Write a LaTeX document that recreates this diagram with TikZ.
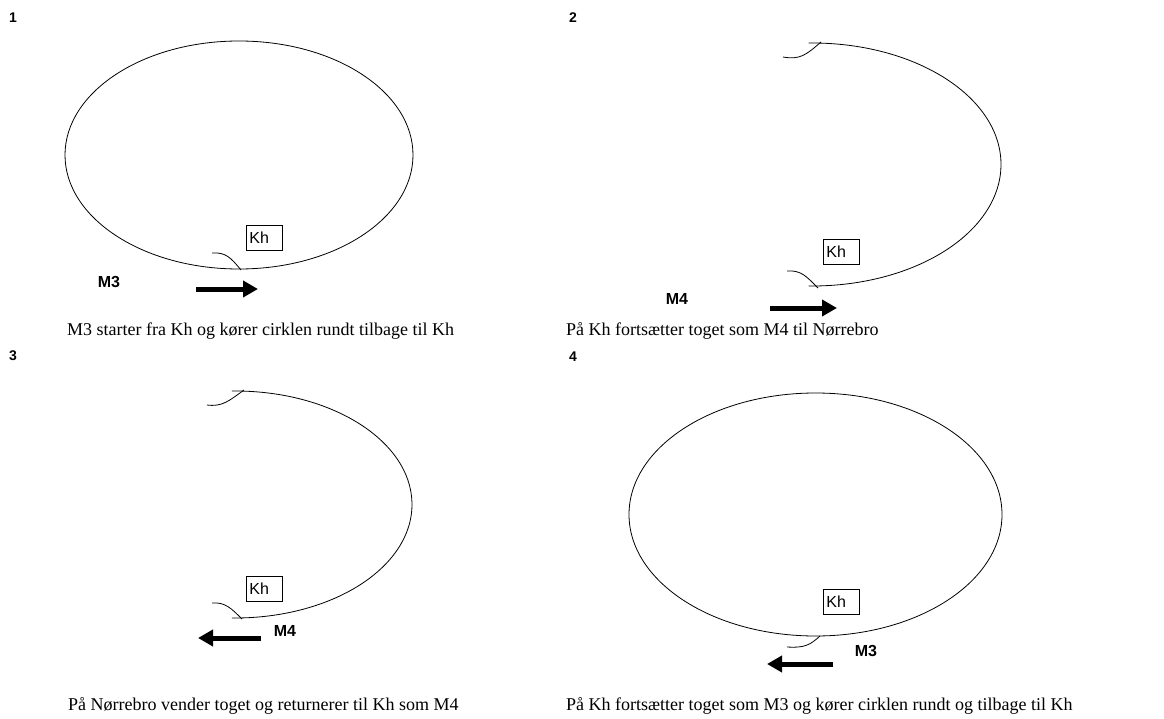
\documentclass[tikz,border=0pt]{standalone}
\usepackage{fontspec}
\setmainfont{Liberation Serif}
\newfontfamily\arialfont{Liberation Sans}
\usetikzlibrary{arrows.meta}
\tikzset{
  track/.style={line width=0.8pt},
  hook/.style={line width=0.8pt},
  khbox/.style={draw, line width=0.8pt, anchor=north west, font=\arialfont\fontsize{16}{16}\selectfont,
    text width=30pt, inner xsep=3pt, inner ysep=0pt, minimum height=25pt, align=left},
  trainlbl/.style={font=\arialfont\bfseries\fontsize{16}{16}\selectfont, inner sep=0pt},
  panelnum/.style={font=\arialfont\bfseries\fontsize{14}{14}\selectfont, inner sep=0pt},
  caption/.style={font=\fontsize{18}{18}\selectfont, anchor=west, inner sep=0pt},
  dirarrow/.style={line width=5pt, -{Triangle[length=15pt,width=16pt]}}
}
\begin{document}
\begin{tikzpicture}[x=1pt,y=-1pt]
\useasboundingbox (0,0) rectangle (1164,719);
% panel numbers
\node[panelnum] (n1) at (13,18) {1};
\node[panelnum] (n2) at (573,18) {2};
\node[panelnum] (n3) at (13,356) {3};
\node[panelnum] (n4) at (573,357) {4};

% ---------- panel 1
\draw[track] (239,155) ellipse [x radius=174, y radius=114];
\draw[hook] (212,253) .. controls (226,252) and (231,258) .. (241,270);
\node[khbox] (kh1) at (246,225) {Kh};
\node[trainlbl] (m31) at (109,282) {M3};
\coordinate (a1s) at (196,289);
\coordinate (a1e) at (258,289);
\draw[dirarrow] (a1s) -- (a1e);
\node[caption] (c1) at (67,331) {M3 starter fra Kh og kører cirklen rundt tilbage til Kh};

% ---------- panel 2
\draw[track] ([shift={(-91:189 and 121.5)}]812,164.5) arc [start angle=-91, end angle=91, x radius=189, y radius=121.5];
\draw[hook] (783,57) .. controls (800,60) and (806,55) .. (821,42);
\draw[hook] (787,271) .. controls (801,270) and (806,276) .. (818,288);
\node[khbox] (kh2) at (823,239) {Kh};
\node[trainlbl] (m42) at (677,299) {M4};
\coordinate (a2s) at (770,308);
\coordinate (a2e) at (837,308);
\draw[dirarrow] (a2s) -- (a2e);
\node[caption] (c2) at (566,331) {På Kh fortsætter toget som M4 til Nørrebro};

% ---------- panel 3
\draw[track] ([shift={(-91:177 and 113.5)}]235,504.5) arc [start angle=-91, end angle=91, x radius=177, y radius=113.5];
\draw[hook] (207,405) .. controls (222,407) and (229,401) .. (244,390);
\draw[hook] (212,603) .. controls (225,602) and (231,608) .. (242,619);
\node[khbox] (kh3) at (246,576) {Kh};
\node[trainlbl] (m43) at (285,631) {M4};
\coordinate (a3s) at (261,638);
\coordinate (a3e) at (198,638);
\draw[dirarrow] (a3s) -- (a3e);
\node[caption] (c3) at (68,706) {På Nørrebro vender toget og returnerer til Kh som M4};

% ---------- panel 4
\draw[track] (815.5,514.5) ellipse [x radius=186.5, y radius=121.5];
\draw[hook] (787,647) .. controls (805,648) and (810,645) .. (820,636);
\node[khbox] (kh4) at (823,589) {Kh};
\node[trainlbl] (m34) at (866,651) {M3};
\coordinate (a4s) at (833,664);
\coordinate (a4e) at (767,664);
\draw[dirarrow] (a4s) -- (a4e);
\node[caption] (c4) at (566,706) {På Kh fortsætter toget som M3 og kører cirklen rundt og tilbage til Kh};
\end{tikzpicture}
\end{document}
